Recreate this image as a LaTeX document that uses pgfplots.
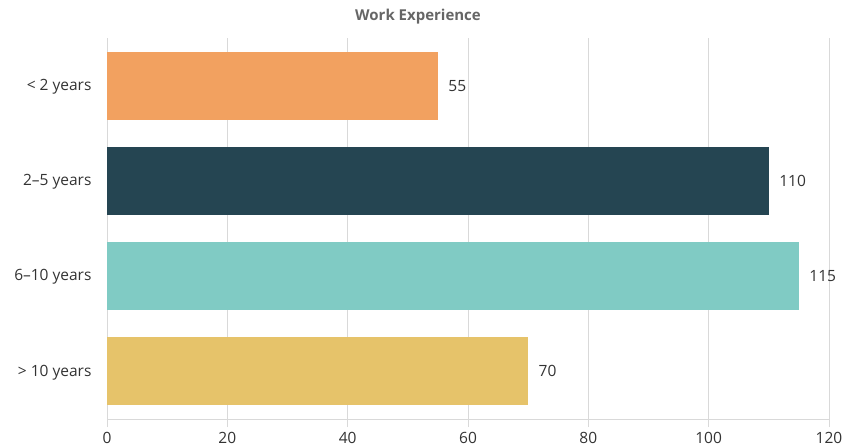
\documentclass[border=0pt]{standalone}
\usepackage{pgfplots}
\pgfplotsset{compat=1.18}
\usepackage{fontspec}
\setmainfont{Open Sans}
\definecolor{cA}{HTML}{F2A160}
\definecolor{cB}{HTML}{254552}
\definecolor{cC}{HTML}{80CBC4}
\definecolor{cD}{HTML}{E6C36A}
\definecolor{gridc}{HTML}{D9D9D9}
\definecolor{txt}{HTML}{333333}
\begin{document}
\begin{tikzpicture}
\path[use as bounding box] (0,0) rectangle (845pt,447pt);
\node[font=\fontsize{15}{18}\selectfont\bfseries, text=black!60] at (418pt,430pt) {Work Experience};
\begin{axis}[
  at={(107pt,28pt)}, anchor=south west,
  scale only axis, width=722pt, height=381pt,
  xbar, bar width=68pt, bar shift=0pt,
  xmin=0, xmax=120, ymin=-0.5, ymax=3.5,
  xtick={0,20,...,120},
  ytick={0,1,2,3},
  yticklabels={{> 10 years},{6–10 years},{2–5 years},{< 2 years}},
  xmajorgrids, grid style={gridc, line width=0.8pt},
  axis x line*=bottom, axis y line*=left,
  x axis line style={gridc, line width=0.8pt},
  y axis line style={gridc, line width=0.8pt},
  ytick style={draw=none},
  xtick style={gridc, line width=0.8pt},
  tick align=outside, major tick length=8pt,
  tick label style={font=\fontsize{15.5}{18}\selectfont, text=txt},
  yticklabel style={xshift=-4pt, yshift=-1pt},
  xticklabel style={yshift=-2pt},
  /pgf/number format/assume math mode=true,
  nodes near coords,
  nodes near coords style={font=\fontsize{15.5}{18}\selectfont, text=txt, xshift=7pt},
  every axis plot/.append style={draw=none},
  clip=false,
]
\addplot[fill=cA] coordinates {(55,3)};
\addplot[fill=cB] coordinates {(110,2)};
\addplot[fill=cC] coordinates {(115,1)};
\addplot[fill=cD] coordinates {(70,0)};
\end{axis}
\end{tikzpicture}
\end{document}
